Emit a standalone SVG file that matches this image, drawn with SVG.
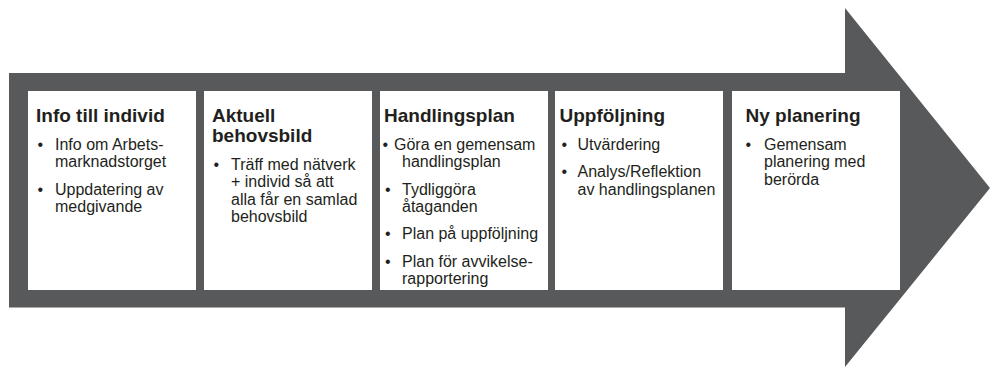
<svg xmlns="http://www.w3.org/2000/svg" width="990" height="368" viewBox="0 0 990 368">
<style>
.arrow{fill:#58595b}
.box{fill:#ffffff}
.t{font-family:"Liberation Sans",Arial,Helvetica,sans-serif;font-size:19px;font-weight:bold;fill:#231f20}
.b{font-family:"Liberation Sans",Arial,Helvetica,sans-serif;font-size:16px;fill:#231f20}
</style>
<g id="arrow">
<polygon class="arrow" points="9,73 845,73 845,8 990,188 845,367 845,307.5 9,307.5"/>
</g>
<g id="connectors"></g>
<g id="node-info">
<rect class="box" x="28" y="91" width="168" height="199"/>
<text class="t" x="36" y="122">Info till individ</text>
<text class="b" x="37.5" y="150">•</text>
<text class="b" x="55" y="150">Info om Arbets-</text>
<text class="b" x="55" y="167.3">marknadstorget</text>
<text class="b" x="37.5" y="194.6">•</text>
<text class="b" x="55" y="194.6">Uppdatering av</text>
<text class="b" x="55" y="211.9">medgivande</text>
</g>
<g id="node-aktuell">
<rect class="box" x="204" y="91" width="168" height="199"/>
<text class="t" x="212" y="122">Aktuell</text>
<text class="t" x="212" y="142">behovsbild</text>
<text class="b" x="213.5" y="170">•</text>
<text class="b" x="231" y="170">Träff med nätverk</text>
<text class="b" x="231" y="187.3">+ individ så att</text>
<text class="b" x="231" y="204.6">alla får en samlad</text>
<text class="b" x="231" y="221.9">behovsbild</text>
</g>
<g id="node-handlingsplan">
<rect class="box" x="380" y="91" width="168" height="199"/>
<text class="t" x="384" y="122">Handlingsplan</text>
<text class="b" x="382.5" y="150">•</text>
<text class="b" x="394" y="150">Göra en gemensam</text>
<text class="b" x="402" y="167.3">handlingsplan</text>
<text class="b" x="385" y="194.6">•</text>
<text class="b" x="402" y="194.6">Tydliggöra</text>
<text class="b" x="402" y="211.9">åtaganden</text>
<text class="b" x="385" y="239.2">•</text>
<text class="b" x="402" y="239.2">Plan på uppföljning</text>
<text class="b" x="385" y="266.5">•</text>
<text class="b" x="402" y="266.5">Plan för avvikelse-</text>
<text class="b" x="402" y="283.8">rapportering</text>
</g>
<g id="node-uppfoljning">
<rect class="box" x="555" y="91" width="168" height="199"/>
<text class="t" x="559.5" y="122">Uppföljning</text>
<text class="b" x="561.5" y="150">•</text>
<text class="b" x="577.5" y="150">Utvärdering</text>
<text class="b" x="561.5" y="177.3">•</text>
<text class="b" x="577.5" y="177.3">Analys/Reflektion</text>
<text class="b" x="577.5" y="194.6">av handlingsplanen</text>
</g>
<g id="node-ny">
<rect class="box" x="732" y="91" width="168" height="199"/>
<text class="t" x="745.5" y="122">Ny planering</text>
<text class="b" x="745.5" y="150">•</text>
<text class="b" x="764" y="150">Gemensam</text>
<text class="b" x="764" y="167.3">planering med</text>
<text class="b" x="764" y="184.6">berörda</text>
</g>
</svg>
